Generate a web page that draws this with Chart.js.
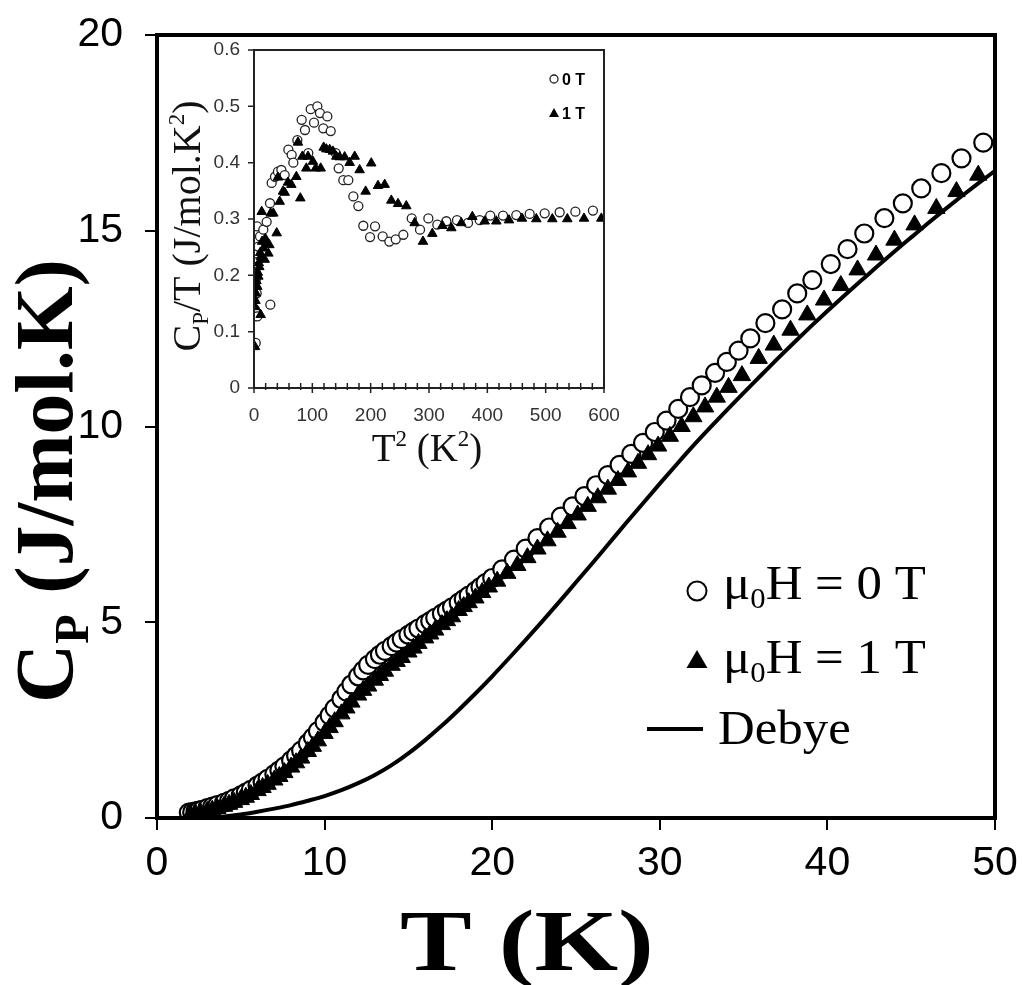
<!DOCTYPE html>
<html lang="en">
<head>
<meta charset="UTF-8">
<title>Cp vs T</title>
<script src="https://cdn.jsdelivr.net/npm/chart.js"></script>
<style>
    body { margin: 0; background: #fff; }
    #wrap { position: relative; width: 1022px; height: 985px; }
    #mainChart { position: absolute; left: 0; top: 0; }
    #insetChart { position: absolute; left: 160px; top: 40px; }
</style>
</head>
<body>
<div id="wrap">
    <canvas id="mainChart" width="1022" height="985"></canvas>
    <canvas id="insetChart" width="460" height="445"></canvas>
</div>
<script>
// main panel: Cp (J/mol.K) vs T (K)
const t0 = [1.9, 2.1, 2.3, 2.5, 2.7, 3.0, 3.3, 3.6, 4.0, 4.3, 4.6, 5.0, 5.3, 5.6, 6.0, 6.3, 6.6, 7.0, 7.3, 7.6,
    8.0, 8.3, 8.6, 9.0, 9.3, 9.6, 10.0, 10.3, 10.6, 11.0, 11.3, 11.6, 12.0, 12.3, 12.6, 13.0, 13.3, 13.6, 14.0, 14.3,
    14.6, 15.0, 15.3, 15.6, 16.0, 16.3, 16.6, 17.0, 17.3, 17.6, 18.0, 18.3, 18.6, 19.0, 19.3, 19.6, 20.0,
    20.6, 21.3, 22.0, 22.7, 23.4, 24.1, 24.8, 25.5, 26.2, 26.9, 27.6, 28.3, 29.0, 29.7, 30.4, 31.1, 31.8, 32.5,
    33.3, 34.0, 34.7, 35.4, 36.3, 37.3, 38.2, 39.1, 40.2, 41.2, 42.2, 43.4, 44.5, 45.6, 46.8, 48.0, 49.3];
const cp0 = [0.14, 0.15, 0.17, 0.19, 0.21, 0.25, 0.29, 0.33, 0.39, 0.44, 0.5, 0.58, 0.65, 0.72, 0.83, 0.91, 1.0, 1.12, 1.22, 1.32,
    1.47, 1.59, 1.72, 1.91, 2.06, 2.22, 2.44, 2.62, 2.8, 3.04, 3.23, 3.41, 3.62, 3.77, 3.91, 4.06, 4.17, 4.27, 4.39, 4.48,
    4.57, 4.68, 4.76, 4.84, 4.95, 5.03, 5.11, 5.22, 5.3, 5.38, 5.5, 5.59, 5.68, 5.8, 5.9, 6.0, 6.13,
    6.35, 6.6, 6.88, 7.15, 7.42, 7.7, 7.96, 8.22, 8.5, 8.76, 9.02, 9.3, 9.58, 9.86, 10.15, 10.45, 10.75, 11.05,
    11.37, 11.65, 11.94, 12.25, 12.64, 12.99, 13.4, 13.74, 14.15, 14.53, 14.93, 15.32, 15.7, 16.08, 16.47, 16.85, 17.25];

const t1 = [2.0, 2.3, 2.6, 3.0, 3.3, 3.6, 4.0, 4.3, 4.6, 5.0, 5.3, 5.6, 6.0, 6.3, 6.6, 7.0, 7.3, 7.6, 8.0, 8.3,
    8.6, 9.0, 9.3, 9.6, 10.0, 10.3, 10.6, 11.0, 11.3, 11.6, 12.0, 12.3, 12.6, 13.0, 13.3, 13.6, 14.0, 14.3, 14.6, 15.0,
    15.3, 15.6, 16.0, 16.3, 16.6, 17.0, 17.3, 17.6, 18.0, 18.3, 18.6, 19.0,
    19.4, 19.8, 20.3, 20.9, 21.5, 22.1, 22.7, 23.3, 23.9, 24.5, 25.1, 25.7, 26.3, 26.9, 27.5, 28.1, 28.7, 29.3,
    29.9, 30.6, 31.3, 32.0, 32.7, 33.4, 34.1, 34.9, 35.9, 36.8, 37.8, 38.8, 39.8, 40.8, 41.8, 42.9, 44.0, 45.2,
    46.5, 47.7, 49.0];
const cp1 = [0.08, 0.1, 0.13, 0.17, 0.2, 0.24, 0.3, 0.35, 0.4, 0.47, 0.53, 0.6, 0.7, 0.78, 0.86, 0.97, 1.06, 1.16, 1.3, 1.41,
    1.53, 1.7, 1.83, 1.97, 2.16, 2.31, 2.46, 2.66, 2.81, 2.96, 3.14, 3.26, 3.37, 3.52, 3.64, 3.75, 3.9, 4.0, 4.1, 4.24,
    4.34, 4.46, 4.6, 4.7, 4.8, 4.94, 5.04, 5.14, 5.3, 5.4, 5.5, 5.62,
    5.76, 5.9, 6.05, 6.25, 6.45, 6.65, 6.87, 7.08, 7.3, 7.52, 7.74, 7.96, 8.18, 8.4, 8.62, 8.84, 9.06, 9.28,
    9.5, 9.75, 10.0, 10.25, 10.5, 10.75, 11.0, 11.3, 11.74, 12.08, 12.46, 12.85, 13.23, 13.6, 14.0, 14.38, 14.76, 15.15,
    15.57, 16.0, 16.42];

const debyeT = [2.5, 3, 4, 5, 6, 7, 8, 9, 10, 11, 12, 13, 14, 15, 16, 17, 18, 19, 20, 21, 22, 23, 24, 25, 26,
    27, 28, 29, 30, 31, 32, 33, 34, 35, 36, 37, 38, 39, 40, 41, 42, 43, 44, 45, 46, 47, 48, 49, 50];
const debyeCp = [0, 0.01, 0.04, 0.09, 0.16, 0.24, 0.33, 0.44, 0.56, 0.71, 0.89, 1.1, 1.35, 1.65, 1.99, 2.36, 2.76, 3.18,
    3.62, 4.08, 4.55, 5.03, 5.52, 6.02, 6.52, 7.03, 7.54, 8.04, 8.54, 9.03, 9.51, 9.97, 10.42, 10.86, 11.29, 11.72,
    12.14, 12.55, 12.95, 13.34, 13.72, 14.1, 14.47, 14.83, 15.19, 15.54, 15.88, 16.21, 16.53];

const mainXTicks = [0, 10, 20, 30, 40, 50];
const mainYTicks = [0, 5, 10, 15, 20];

// inset: Cp/T vs T^2
const inX0 = [1.7, 2.9, 2.9, 3.4, 4.6, 4.6, 5.7, 5.4, 7.4, 10.3, 16, 21.7, 27.4, 28, 30.3, 36, 41, 46.9, 52.6, 58.9,
    64.6, 67.4, 74.3, 81.7, 87.4, 93.1, 97.2, 102.9, 108.6, 113.1, 118.8, 125.7, 131.5, 140.1, 145.2, 153.1, 161.7,
    170.3, 178.9, 187.4, 198.9, 207.5, 220.6, 232, 243, 256, 270.4, 284.6, 298.9, 314.3, 329.7, 348, 366.9, 386.9,
    405, 426.9, 449.7, 472.6, 498.3, 524, 550.9, 581];
const inY0 = [0.139, 0.08, 0.192, 0.239, 0.168, 0.215, 0.127, 0.287, 0.251, 0.269, 0.281, 0.295, 0.328, 0.148, 0.364,
    0.375, 0.384, 0.387, 0.378, 0.423, 0.414, 0.4, 0.44, 0.476, 0.458, 0.417, 0.495, 0.471, 0.5, 0.488, 0.461, 0.482,
    0.456, 0.417, 0.39, 0.369, 0.369, 0.34, 0.323, 0.288, 0.268, 0.287, 0.269, 0.26, 0.264, 0.272, 0.301, 0.281,
    0.301, 0.29, 0.296, 0.298, 0.293, 0.298, 0.306, 0.306, 0.307, 0.309, 0.31, 0.312, 0.313, 0.315];
const inX1 = [1.7, 1.7, 2.5, 3.4, 4.2, 5.7, 6.5, 7.4, 8.2, 9.1, 10.5, 11.4, 12, 13.2, 14, 16, 18.3, 19.5, 21.7, 24.6,
    26.3, 28.6, 33.1, 38.9, 41, 44, 49.7, 52.6, 58.3, 64, 72.6, 75.4, 79.4, 82.9, 89.7, 92.6, 101, 105.7, 114.3,
    119.4, 124, 129.7, 135.4, 141.1, 146.9, 155.4, 164, 172.6, 181.1, 191.4, 201, 212.6, 224, 235.4, 246.9, 261.1,
    275.4, 289.7, 305.7, 322.9, 338.3, 355.4, 374.3, 395.4, 415.4, 437.1, 459.4, 484, 511.4, 537.1, 565.7, 595.4];
const inY1 = [0.073, 0.144, 0.155, 0.168, 0.19, 0.18, 0.205, 0.198, 0.222, 0.215, 0.24, 0.13, 0.233, 0.313, 0.26,
    0.248, 0.228, 0.265, 0.257, 0.239, 0.254, 0.31, 0.31, 0.275, 0.374, 0.331, 0.349, 0.347, 0.365, 0.361, 0.375,
    0.436, 0.337, 0.411, 0.39, 0.411, 0.402, 0.39, 0.39, 0.427, 0.424, 0.423, 0.42, 0.411, 0.41, 0.41, 0.4, 0.411,
    0.387, 0.349, 0.399, 0.359, 0.361, 0.333, 0.327, 0.323, 0.293, 0.26, 0.274, 0.288, 0.284, 0.293, 0.304, 0.296,
    0.296, 0.298, 0.301, 0.3, 0.3, 0.3, 0.301, 0.301];

const inXTicks = [0, 100, 200, 300, 400, 500, 600];
const inXMinor = [20, 40, 60, 80, 120, 140, 160, 180, 220, 240, 260, 280, 320, 340, 360, 380,
    420, 440, 460, 480, 520, 540, 560, 580];
const inYTicks = [0, 0.1, 0.2, 0.3, 0.4, 0.5, 0.6];
const inYLabels = ['0', '0.1', '0.2', '0.3', '0.4', '0.5', '0.6'];

const SANS = '"Liberation Sans", Arial, sans-serif';
const SERIF = '"Liberation Serif", "Times New Roman", serif';

function pts(xs, ys) { return xs.map((x, i) => ({ x: x, y: ys[i] })); }

// draws a row of text pieces (for sub/superscripts); sx stretches horizontally
function drawRuns(ctx, runs, x, y, align, sx) {
    sx = sx || 1;
    let total = 0;
    runs.forEach(r => { ctx.font = r.font; r.w = ctx.measureText(r.text).width; total += r.w; });
    ctx.save();
    ctx.translate(x, y);
    ctx.scale(sx, 1);
    let cx = align === 'center' ? -total / 2 : 0;
    ctx.textAlign = 'left';
    ctx.textBaseline = 'alphabetic';
    runs.forEach(r => { ctx.font = r.font; ctx.fillText(r.text, cx, r.dy || 0); cx += r.w; });
    ctx.restore();
}

// keep the plot box where the figure has it (no auto padding for label overhang)
function noPadX(s) { s.paddingLeft = 0; s.paddingRight = 0; }
function noPadY(s) { s.paddingTop = 0; s.paddingBottom = 0; }

const mainDecor = {
    id: 'mainDecor',
    afterDraw(chart) {
        const ctx = chart.ctx, a = chart.chartArea;
        ctx.save();
        ctx.strokeStyle = '#000';
        ctx.lineWidth = 4;
        ctx.strokeRect(a.left, a.top, a.right - a.left, a.bottom - a.top);
        ctx.fillStyle = '#000';

        // axis titles
        drawRuns(ctx, [{ text: 'T (K)', font: 'bold 86px ' + SERIF }], 527, 970, 'center', 1.25);
        ctx.save();
        ctx.translate(72, 481);
        ctx.rotate(-Math.PI / 2);
        drawRuns(ctx, [
            { text: 'C', font: 'bold 82px ' + SERIF },
            { text: 'P', font: 'bold 48px ' + SERIF, dy: 16 },
            { text: ' (J/mol.K)', font: 'bold 82px ' + SERIF }
        ], 0, 0, 'center');
        ctx.restore();

        // legend
        ctx.lineWidth = 2;
        ctx.beginPath();
        ctx.arc(697, 591, 9.5, 0, Math.PI * 2);
        ctx.stroke();
        ctx.beginPath();
        ctx.moveTo(697, 650);
        ctx.lineTo(707.5, 668);
        ctx.lineTo(686.5, 668);
        ctx.closePath();
        ctx.fill();
        ctx.lineWidth = 4;
        ctx.beginPath();
        ctx.moveTo(647, 729);
        ctx.lineTo(703, 729);
        ctx.stroke();
        const f = '48px ' + SERIF, fs = '29px ' + SERIF;
        drawRuns(ctx, [{ text: 'μ', font: f }, { text: '0', font: fs, dy: 9 }, { text: 'H = 0 T', font: f }], 723, 599, 'left', 1.06);
        drawRuns(ctx, [{ text: 'μ', font: f }, { text: '0', font: fs, dy: 9 }, { text: 'H = 1 T', font: f }], 723, 673, 'left', 1.06);
        drawRuns(ctx, [{ text: 'Debye', font: f }], 718, 744, 'left', 1.06);
        ctx.restore();
    }
};

new Chart(document.getElementById('mainChart'), {
    type: 'scatter',
    data: {
        datasets: [
            { label: '1 T', data: pts(t1, cp1), pointStyle: 'triangle', pointRadius: 10,
              backgroundColor: '#000', borderColor: '#000', borderWidth: 1 },
            { label: '0 T', data: pts(t0, cp0), pointStyle: 'circle', pointRadius: 9,
              backgroundColor: '#fff', borderColor: '#000', borderWidth: 2.2 },
            { label: 'Debye', data: pts(debyeT, debyeCp), showLine: true, pointRadius: 0,
              borderColor: '#000', borderWidth: 4, cubicInterpolationMode: 'monotone' }
        ]
    },
    options: {
        responsive: false,
        animation: false,
        events: [],
        layout: { padding: { top: 35, right: 27, left: 0, bottom: 0 } },
        plugins: { legend: { display: false }, tooltip: { enabled: false } },
        scales: {
            x: {
                type: 'linear', min: 0, max: 50,
                afterBuildTicks: s => { s.ticks = mainXTicks.map(v => ({ value: v })); },
                afterFit: s => { s.height = 167; noPadX(s); },
                grid: { drawOnChartArea: false, drawTicks: true, tickLength: 12, color: '#000', lineWidth: 2 },
                border: { display: false },
                ticks: { font: { family: SANS, size: 41 }, color: '#000', padding: 9, maxRotation: 0,
                         callback: v => String(v) }
            },
            y: {
                type: 'linear', min: 0, max: 20,
                afterBuildTicks: s => { s.ticks = mainYTicks.map(v => ({ value: v })); },
                afterFit: s => { s.width = 157; noPadY(s); },
                grid: { drawOnChartArea: false, drawTicks: true, tickLength: 12, color: '#000', lineWidth: 2 },
                border: { display: false },
                ticks: { font: { family: SANS, size: 41 }, color: '#000', padding: 22,
                         callback: v => String(v) }
            }
        }
    },
    plugins: [mainDecor]
});

const insetDecor = {
    id: 'insetDecor',
    beforeDatasetsDraw(chart) {
        const a = chart.chartArea, ctx = chart.ctx;
        ctx.save();
        ctx.fillStyle = '#fff';
        ctx.fillRect(a.left, a.top, a.right - a.left, a.bottom - a.top);
        ctx.restore();
    },
    afterDraw(chart) {
        const ctx = chart.ctx, a = chart.chartArea;
        const sx = chart.scales.x, sy = chart.scales.y;
        ctx.save();
        ctx.strokeStyle = '#222';
        ctx.lineWidth = 2;
        ctx.strokeRect(a.left, a.top, a.right - a.left, a.bottom - a.top);
        ctx.lineWidth = 1.5;
        ctx.beginPath();
        inXTicks.forEach(v => { const p = sx.getPixelForValue(v); ctx.moveTo(p, a.bottom - 5); ctx.lineTo(p, a.bottom + 5); });
        inXMinor.forEach(v => { const p = sx.getPixelForValue(v); ctx.moveTo(p, a.bottom - 5); ctx.lineTo(p, a.bottom + 2); });
        inYTicks.forEach(v => { const p = sy.getPixelForValue(v); ctx.moveTo(a.left - 6, p); ctx.lineTo(a.left, p); });
        ctx.stroke();

        ctx.fillStyle = '#111';
        // titles (canvas origin is at page 160,40)
        const f = '39px ' + SERIF, fs = '23px ' + SERIF;
        drawRuns(ctx, [{ text: 'T', font: f }, { text: '2', font: fs, dy: -15 }, { text: ' (K', font: f },
                       { text: '2', font: fs, dy: -15 }, { text: ')', font: f }], 427 - 160, 461 - 40, 'center');
        ctx.save();
        ctx.translate(200 - 160, 226 - 40);
        ctx.rotate(-Math.PI / 2);
        drawRuns(ctx, [{ text: 'C', font: '40px ' + SERIF }, { text: 'P', font: fs, dy: 8 },
                       { text: '/T (J/mol.K', font: '40px ' + SERIF }, { text: '2', font: fs, dy: -16 },
                       { text: ')', font: '40px ' + SERIF }], 0, 0, 'center');
        ctx.restore();

        // small legend
        ctx.strokeStyle = '#222';
        ctx.lineWidth = 1.3;
        ctx.beginPath();
        ctx.arc(554 - 160, 79 - 40, 4, 0, Math.PI * 2);
        ctx.stroke();
        ctx.fillStyle = '#000';
        ctx.beginPath();
        ctx.moveTo(554 - 160, 108 - 40);
        ctx.lineTo(559 - 160, 117 - 40);
        ctx.lineTo(549 - 160, 117 - 40);
        ctx.closePath();
        ctx.fill();
        drawRuns(ctx, [{ text: '0 T', font: 'bold 16px ' + SANS }], 562 - 160, 85 - 40, 'left');
        drawRuns(ctx, [{ text: '1 T', font: 'bold 16px ' + SANS }], 562 - 160, 119 - 40, 'left');
        ctx.restore();
    }
};

new Chart(document.getElementById('insetChart'), {
    type: 'scatter',
    data: {
        datasets: [
            { label: '1 T', data: pts(inX1, inY1), pointStyle: 'triangle', pointRadius: 5.5,
              backgroundColor: '#000', borderColor: '#000', borderWidth: 1 },
            { label: '0 T', data: pts(inX0, inY0), pointStyle: 'circle', pointRadius: 4.5,
              backgroundColor: '#fff', borderColor: '#222', borderWidth: 1.3 }
        ]
    },
    options: {
        responsive: false,
        animation: false,
        events: [],
        layout: { padding: { top: 10, right: 16, left: 0, bottom: 0 } },
        plugins: { legend: { display: false }, tooltip: { enabled: false } },
        scales: {
            x: {
                type: 'linear', min: 0, max: 600,
                afterBuildTicks: s => { s.ticks = inXTicks.map(v => ({ value: v })); },
                afterFit: s => { s.height = 97; noPadX(s); },
                grid: { display: false, drawTicks: false },
                border: { display: false },
                ticks: { font: { family: SANS, size: 19 }, color: '#333', padding: 16, maxRotation: 0,
                         callback: v => String(v) }
            },
            y: {
                type: 'linear', min: 0, max: 0.6,
                afterBuildTicks: s => { s.ticks = inYTicks.map(v => ({ value: v })); },
                afterFit: s => { s.width = 94; noPadY(s); },
                grid: { display: false, drawTicks: false },
                border: { display: false },
                ticks: { font: { family: SANS, size: 19 }, color: '#333', padding: 14,
                         callback: (v, i) => inYLabels[i] }
            }
        }
    },
    plugins: [insetDecor]
});
</script>
</body>
</html>
